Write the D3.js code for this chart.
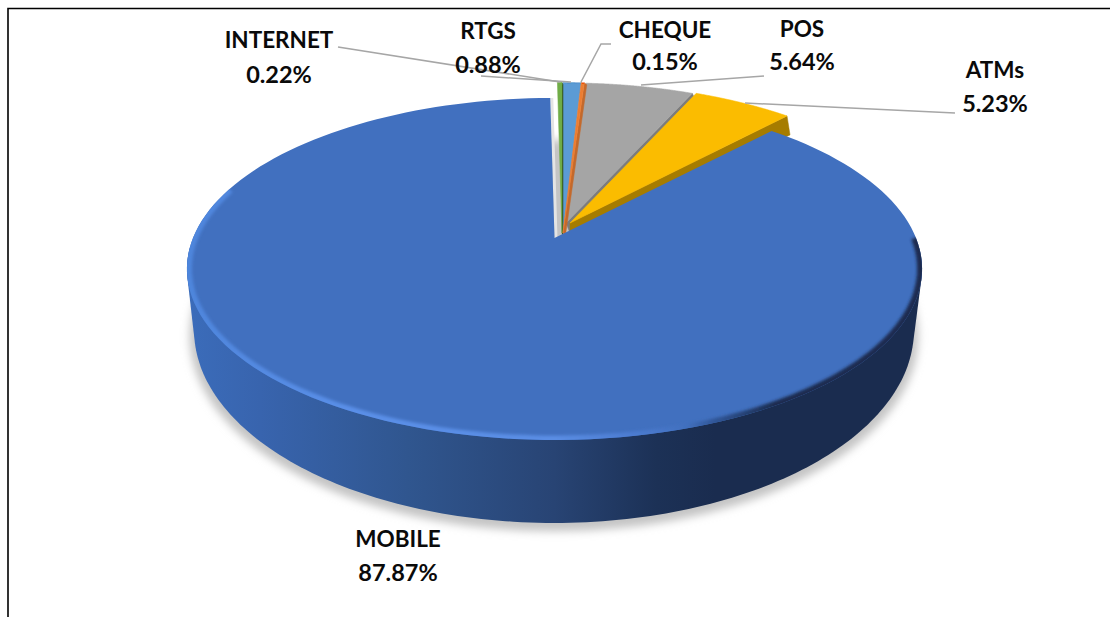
<!DOCTYPE html>
<html><head><meta charset="utf-8">
<script src="https://cdn.jsdelivr.net/npm/d3@7"></script>
<style>html,body{margin:0;padding:0;background:#fff}svg{display:block}text{font-family:Lato,"Open Sans",sans-serif;font-weight:700;fill:#0a0a0a}</style>
</head><body><svg id="c" width="1110" height="617"></svg>
<script>
const categories = ["RTGS","CHEQUE","POS","ATMs","MOBILE","INTERNET"];
const shares = [0.88,0.15,5.64,5.23,87.87,0.22];
const topColors = ["#5b9bd5","#ed7d31","#a5a5a5","#fbbc00","#4170bf","#70ad47"];
const wallColors = ["#3f74a6","#c4692b","#7c7c7c","#a67c00","#1a2c4f","#2c4a1c"];

// drawing set-up
const W = 1110, H = 617;
const K = 0.181, A = 165.4, B = 361.5;
const A2 = 186.7, B2 = 354;
const TAU = Math.PI * 2;
const apex = {MOBILE:[554.5,238],RTGS:[563,233],CHEQUE:[563,233],INTERNET:[562,233],POS:[566,223],ATMs:[570,223]};
const reach = {MOBILE:1,RTGS:1.089,CHEQUE:1.089,INTERNET:1.089,POS:1,ATMs:1};
const wall = {RTGS:[[0,0],[0,0]],CHEQUE:[[2.5,2],[2.5,2]],INTERNET:[[1,2],[1,2]],POS:[[4,10],[3,6]],ATMs:[[0,13],[3,19]]};

const svg = d3.select("#c");
const defs = svg.append("defs");
const blur = (id,s)=>defs.append("filter").attr("id",id).attr("filterUnits","userSpaceOnUse")
  .attr("x",0).attr("y",0).attr("width",W).attr("height",H)
  .append("feGaussianBlur").attr("stdDeviation",s);
blur("shadow",4); blur("soft",1.5);

const grad = (id,stops)=>{const g=defs.append("linearGradient").attr("id",id).attr("gradientUnits","userSpaceOnUse")
  .attr("x1",187).attr("x2",921).attr("y1",0).attr("y2",0);
  stops.forEach(s=>g.append("stop").attr("offset",s[0]).attr("stop-color",s[1]));};
grad("wallGrad",[[0,"#3b6cba"],[0.1,"#3864ae"],[0.3,"#30568f"],[0.5,"#284474"],[0.64,"#1c3156"],[0.72,"#1a2c4f"],[1,"#1a2c4f"]]);
grad("rimGrad",[[0,"#4e85dc"],[0.22,"#5a8fe8"],[0.5,"#5a8de4"],[0.62,"#4a7ace"],[0.68,"#4170bf"],[0.72,"#2f5596"],[0.8,"#1a2c4f"],[1,"#1a2c4f"]]);

const pie = d3.pie().sort(null).value(d=>d.value).startAngle(0).endAngle(TAU);
const arcs = pie(categories.map((c,i)=>({name:c,value:shares[i],top:topColors[i],side:wallColors[i]})));

const project = (th,r,o,a=A,b=B)=>{const u=r*Math.sin(th),v=-r*Math.cos(th),den=1-K*v;return [o[0]+b*u/den,o[1]+a*v/den];};
const rim = (t0,t1,r,o,a,b)=>d3.range(0,161).map(i=>project(t0+(t1-t0)*i/160,r,o,a,b));
const line = d3.line();
const closed = d3.line().curve(d3.curveLinearClosed);

const bottomO = [554,295];
const mobile = arcs.find(d=>d.data.name==="MOBILE");
const smallOrder = ["POS","RTGS","INTERNET","CHEQUE","ATMs"];

// page frame
svg.append("path").attr("d",line([[8,H],[8,8.5],[W,8.5]])).attr("fill","none").attr("stroke","#000").attr("stroke-width",1.6);

// ground shadow
svg.append("path").attr("d",closed(rim(0,TAU,1.012,[bottomO[0],bottomO[1]+5],A2,B2)))
  .attr("fill","#c4c4c4").attr("filter","url(#shadow)");

// mobile side wall
const hull=d3.polygonHull([...rim(Math.PI*0.52,Math.PI*1.48,1,apex.MOBILE),...rim(Math.PI*0.52,Math.PI*1.48,1,bottomO,A2,B2)]);
svg.append("path").attr("d",closed(hull)).attr("fill","url(#wallGrad)");

// detached slices
smallOrder.forEach(n=>{
  const d=arcs.find(a=>a.data.name===n), o=apex[n], r=reach[n], w=wall[n];
  const pts=rim(d.startAngle,d.endAngle,r,o);
  const end=pts[pts.length-1];
  if(w[0][1]||w[0][0]){
    svg.append("path").attr("d",closed([o,end,[end[0]+w[1][0],end[1]+w[1][1]],[o[0]+w[0][0],o[1]+w[0][1]]]))
      .attr("fill",d.data.side).attr("stroke",d.data.side).attr("stroke-width",0.5);
  }
  svg.append("path").attr("d",closed([o,...pts])).attr("fill",d.data.top)
    .attr("stroke",d.data.top).attr("stroke-width",0.6);
});

// mobile top
const [m0,m1]=[mobile.startAngle,mobile.endAngle];
const gapEdge=project(m1,1,apex.MOBILE);
svg.append("path").attr("d",line([[apex.MOBILE[0]+1.5,apex.MOBILE[1]],[gapEdge[0]+1.5,gapEdge[1]]]))
  .attr("stroke","#e4e4e4").attr("stroke-width",3).attr("fill","none");
const topPts=[apex.MOBILE,...rim(m0,m1,1,apex.MOBILE)];
defs.append("clipPath").attr("id","topClip").append("path").attr("d",closed(topPts));
svg.append("path").attr("d",closed(topPts)).attr("fill",mobile.data.top);
svg.append("g").attr("clip-path","url(#topClip)").append("path")
  .attr("d",line(rim(Math.PI*0.5,Math.PI*1.6,0.996,apex.MOBILE)))
  .attr("fill","none").attr("stroke","url(#rimGrad)").attr("stroke-width",7).attr("filter","url(#soft)");

// leader lines
const leaders=[
  {name:"INTERNET",pts:[[338,47],[560,82]]},
  {name:"RTGS",pts:[[481,76],[571,82]]},
  {name:"CHEQUE",pts:[[611,44],[601,44],[581,82]]},
  {name:"POS",pts:[[764,76],[641,85]]},
  {name:"ATMs",pts:[[745,103],[955,113]]}
];
svg.append("g").selectAll("path").data(leaders).join("path").attr("d",d=>line(d.pts))
  .attr("fill","none").attr("stroke","#a6a6a6").attr("stroke-width",1.5);

// labels
const labelAt={INTERNET:[279,48,83],RTGS:[488,39,73],CHEQUE:[665,38,70],POS:[802,37,70],ATMs:[995,78,112],MOBILE:[398,547,581]};
arcs.forEach(d=>{
  const p=labelAt[d.data.name];
  svg.append("text").attr("x",p[0]).attr("y",p[1]).attr("text-anchor","middle").attr("font-size",22.5).text(d.data.name);
  svg.append("text").attr("x",p[0]).attr("y",p[2]).attr("text-anchor","middle").attr("font-size",23.5).text(d.data.value.toFixed(2)+"%");
});
</script></body></html>
